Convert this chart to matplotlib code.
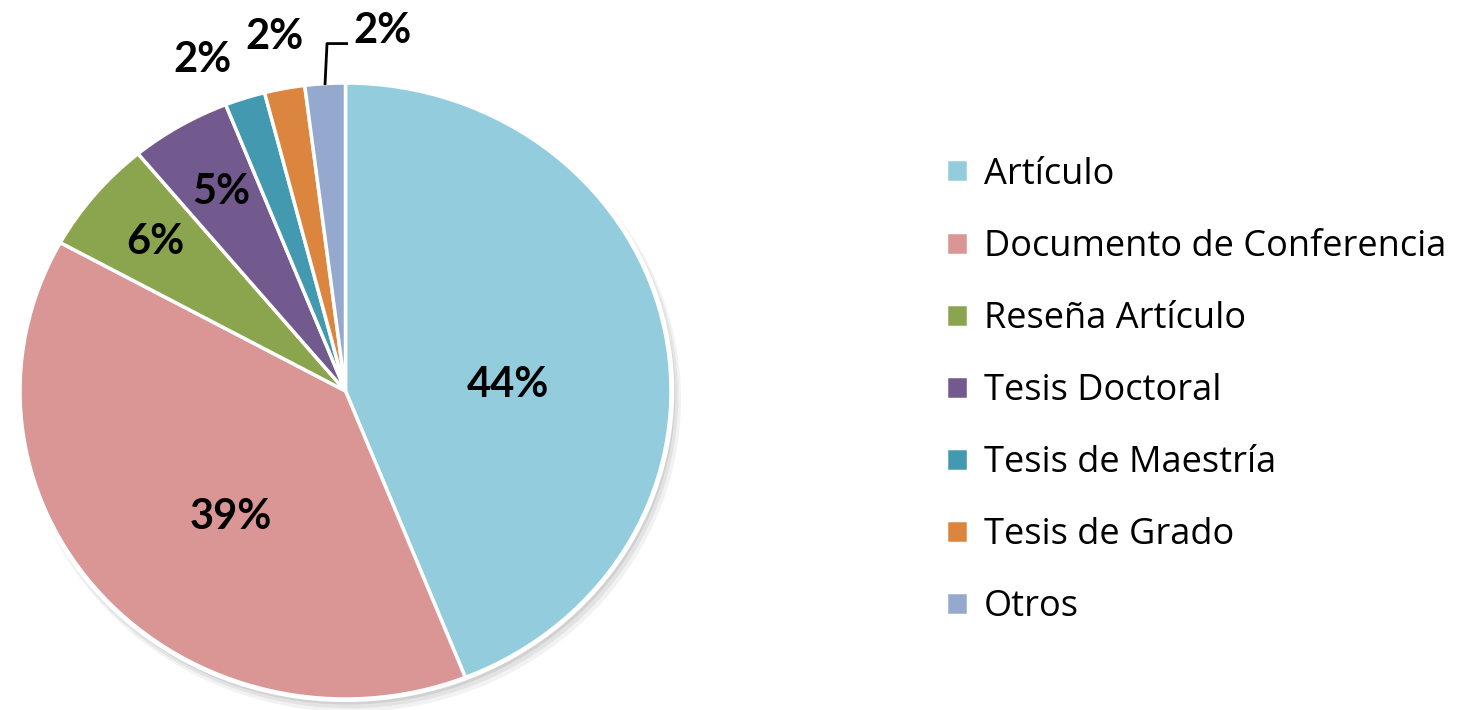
import matplotlib.pyplot as plt
import matplotlib.patches as mpatches
import numpy as np

plt.rcParams['font.family'] = ['Lato', 'DejaVu Sans']

# datos del gráfico
categorias = ['Artículo', 'Documento de Conferencia', 'Reseña Artículo', 'Tesis Doctoral',
              'Tesis de Maestría', 'Tesis de Grado', 'Otros']
porcentajes = [44, 39, 6, 5, 2, 2, 2]
colores = ['#93CDDD', '#D99694', '#8BA54E', '#735A8E', '#4399B0', '#DC853F', '#95A9CF']

W, H = 1462, 710
fig = plt.figure(figsize=(W / 100, H / 100), dpi=100)
# caja del pastel en pixeles (izq, der, arriba, abajo)
px0, px1, py0, py1 = 20, 671, 83, 699
ax = fig.add_axes([px0 / W, 1 - py1 / H, (px1 - px0) / W, (py1 - py0) / H])

# sombra suave
for k, a in enumerate([0.05, 0.06, 0.08]):
    d = 0.028 - k * 0.008
    ax.add_patch(mpatches.Ellipse((d * 0.6, -d), 2.0 + d, 2.0 + d, color='#000000',
                                  alpha=a, lw=0, zorder=0, clip_on=False))
ax.add_patch(mpatches.Ellipse((0, 0), 2.02, 2.02, color='white', lw=0, zorder=0.5,
                              clip_on=False))

wedges, _ = ax.pie(porcentajes, colors=colores, startangle=90, counterclock=False,
                   radius=1, wedgeprops=dict(edgecolor='white', linewidth=2.5))
for w in wedges:
    w.set_zorder(1)
    w.set_clip_on(False)
ax.set_aspect('auto')
ax.set_xlim(-1, 1)
ax.set_ylim(-1, 1)
ax.axis('off')

# posiciones de etiquetas (distancia radial y giro por sector)
dist = [0.5, 0.54, 0.76, 0.75, 1.16, 1.17, None]
giro = [-8.5, 7.7, 0, 0, 4.2, 0, 0]
for w, p, r, g in zip(wedges, porcentajes, dist, giro):
    ang = np.deg2rad((w.theta1 + w.theta2) / 2 + g)
    if r is None:
        # etiqueta desplazada con línea guía
        x0, y0 = np.cos(ang), np.sin(ang)
        xs = [x0, x0 + 0.006, x0 + 0.066]
        ys = [y0, y0 + 0.13, y0 + 0.13]
        ax.plot(xs, ys, color='black', lw=2, clip_on=False, zorder=3)
        ax.text(xs[-1] + 0.02, ys[-1] + 0.04, f'{p}%', ha='left', va='center',
                fontsize=30, fontweight='bold', clip_on=False)
    else:
        ax.text(r * np.cos(ang), r * np.sin(ang), f'{p}%', ha='center', va='center',
                fontsize=30, fontweight='bold', clip_on=False)

fig.legend(wedges, categorias, loc='center left', bbox_to_anchor=(946 / W, 319 / H),
           frameon=False, prop=dict(family=['Open Sans', 'DejaVu Sans'], size=26),
           handlelength=0.6, handleheight=0.6,
           handletextpad=0.45, labelspacing=1.0, borderpad=0, borderaxespad=0)

fig.savefig('out.png', dpi=100)
